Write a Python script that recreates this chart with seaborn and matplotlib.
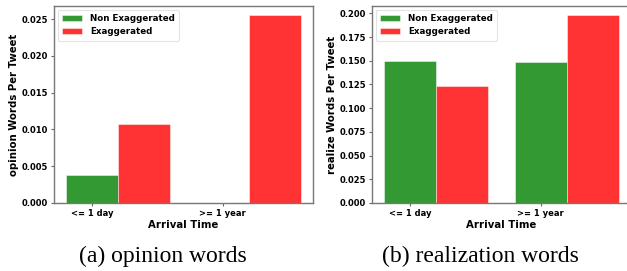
import matplotlib
matplotlib.use("Agg")
import matplotlib.pyplot as plt
import matplotlib.ticker as mticker
import seaborn as sns
import pandas as pd

categories = ["<= 1 day", ">= 1 year"]
series_names = ["Non Exaggerated", "Exaggerated"]
opinion_non = [0.0038, 0.0]
opinion_exa = [0.0108, 0.0255]
realize_non = [0.1496, 0.1482]
realize_exa = [0.1235, 0.1979]
ylabels = ["opinion Words Per Tweet", "realize Words Per Tweet"]
captions = ["(a) opinion words", "(b) realization words"]
xlabel = "Arrival Time"

colors = {"Non Exaggerated": "#008000", "Exaggerated": "#ff0000"}

sns.set_style("ticks")
plt.rcParams["font.family"] = ["DejaVu Sans"]
plt.rcParams["text.color"] = "black"
plt.rcParams["axes.labelcolor"] = "black"
plt.rcParams["xtick.labelcolor"] = "black"
plt.rcParams["ytick.labelcolor"] = "black"

W, H = 627, 271
fig = plt.figure(figsize=(W / 100, H / 100), dpi=100)

def make_df(non, exa):
    rows = []
    for c, v in zip(categories, non):
        rows.append({"cat": c, "series": series_names[0], "val": v})
    for c, v in zip(categories, exa):
        rows.append({"cat": c, "series": series_names[1], "val": v})
    return pd.DataFrame(rows)

panels = [
    (make_df(opinion_non, opinion_exa), ylabels[0], captions[0], 54, 313, 0.005, 163),
    (make_df(realize_non, realize_exa), ylabels[1], captions[1], 372, 631, 0.025, 480),
]

top_px, bot_px = 6, 203
for df, ylab, cap, lpx, rpx, step, capx in panels:
    ax = fig.add_axes([lpx / W, (H - bot_px) / H, (rpx - lpx) / W, (bot_px - top_px) / H])
    sns.barplot(data=df, x="cat", y="val", hue="series", hue_order=series_names,
                palette=colors, saturation=1, alpha=0.8, errorbar=None,
                edgecolor="white", linewidth=0.4, ax=ax)
    ax.set_xlim(-0.49, 1.49)
    ymax = max(df["val"]) * 1.05
    ax.set_ylim(0, ymax)
    ax.yaxis.set_major_locator(mticker.MultipleLocator(step))
    ax.yaxis.set_major_formatter(mticker.FormatStrFormatter("%.3f"))
    ax.set_xticks([-0.2, 0.8])
    ax.set_xticklabels(categories, fontsize=6, fontweight="bold")
    for t in ax.get_yticklabels():
        t.set_fontsize(6)
        t.set_fontweight("bold")
    ax.tick_params(axis="both", length=2.5, width=0.8, color="#666666", pad=2,
                   labelsize=6)
    ax.set_ylabel(ylab, fontsize=7.3, fontweight="bold", labelpad=1.5)
    ax.set_xlabel(xlabel, fontsize=7.3, fontweight="bold", labelpad=1)
    for s in ax.spines.values():
        s.set_visible(True)
        s.set_color("#777777")
        s.set_linewidth(1.0)
    leg = ax.legend(loc="upper left", prop={"size": 6.3, "weight": "bold"},
                    frameon=True, handlelength=2.3, borderpad=0.5,
                    labelspacing=0.5, handletextpad=0.9, borderaxespad=0.4)
    leg.get_frame().set_edgecolor("#dddddd")
    leg.get_frame().set_linewidth(0.8)
    fig.text(capx / W, 1 - 256 / H, cap,
             fontsize=17, family="Liberation Serif", ha="center", va="center")

fig.savefig("out.png", dpi=100)
